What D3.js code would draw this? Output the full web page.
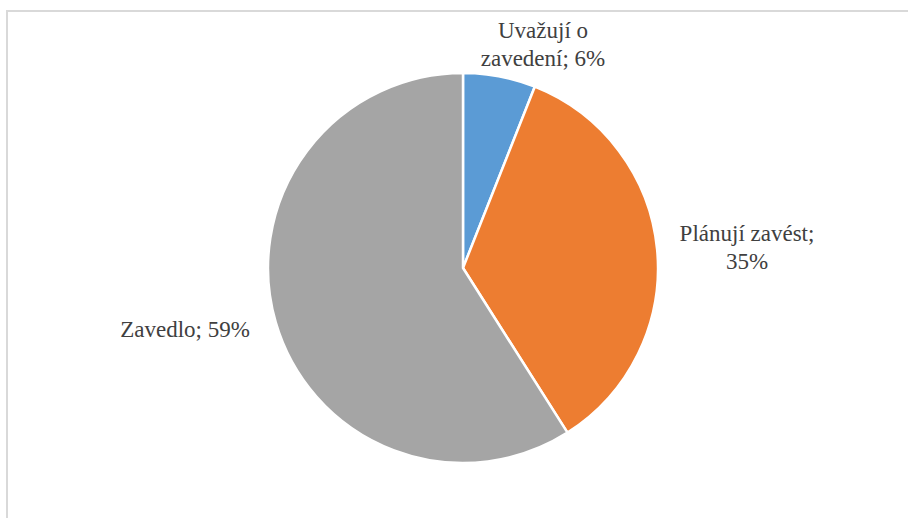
<!DOCTYPE html>
<html lang="cs">
<head>
<meta charset="UTF-8">
<title>Pie</title>
<script src="https://cdn.jsdelivr.net/npm/d3@7"></script>
<style>
body { margin: 0; background: #fff; }
svg { display: block; }
.lbl { font-family: 'Liberation Serif', 'Times New Roman', Times, 'DejaVu Serif', serif; font-size: 23px; }
</style>
</head>
<body>
<div id="chart"></div>
<script>
// slice data, clockwise from 12 o'clock
const CATEGORIES = ["Uvažují o zavedení", "Plánují zavést", "Zavedlo"];
const VALUES = [6, 35, 59];
const COLORS = ["#5b9bd5", "#ed7d31", "#a5a5a5"];
// label lines as shown in the chart
const LABEL_LINES = [
    ["Uvažují o", "zavedení; 6%"],
    ["Plánují zavést;", "35%"],
    ["Zavedlo; 59%"]
];

const WIDTH = 908;
const HEIGHT = 518;
const CX = 463;
const CY = 268;
const RADIUS = 195;
const LINE_H = 27.5;

const svg = d3.select("#chart").append("svg")
    .attr("width", WIDTH)
    .attr("height", HEIGHT);

// chart area border (runs off the right and bottom edges)
svg.append("rect")
    .attr("x", 7)
    .attr("y", 11)
    .attr("width", WIDTH + 20)
    .attr("height", HEIGHT + 20)
    .attr("fill", "none")
    .attr("stroke", "#d9d9d9")
    .attr("stroke-width", 2);

const data = CATEGORIES.map((c, i) => ({ name: c, value: VALUES[i], color: COLORS[i], lines: LABEL_LINES[i] }));

const pie = d3.pie().value(d => d.value).sort(null);
const arc = d3.arc().innerRadius(0).outerRadius(RADIUS);
const arcs = pie(data);

const g = svg.append("g").attr("transform", `translate(${CX},${CY})`);

g.selectAll("path")
    .data(arcs)
    .join("path")
    .attr("d", arc)
    .attr("fill", d => d.data.color)
    .attr("stroke", "#fff")
    .attr("stroke-width", 2.5)
    .attr("stroke-linejoin", "round");

// label centres (first baseline), relative to pie centre
const LABEL_POS = [[80, -230], [284, -27], [-278, 69]];

g.selectAll("text.lbl")
    .data(arcs)
    .join("text")
    .attr("class", "lbl")
    .attr("text-anchor", "middle")
    .attr("fill", "#404040")
    .each(function(d, i) {
        const t = d3.select(this);
        const [x, y] = LABEL_POS[i];
        d.data.lines.forEach((ln, j) => {
            t.append("tspan")
                .attr("x", x)
                .attr("y", y + j * LINE_H)
                .text(ln);
        });
    });
</script>
</body>
</html>
